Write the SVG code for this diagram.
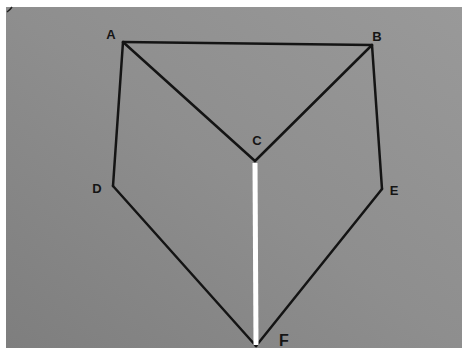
<svg xmlns="http://www.w3.org/2000/svg" width="462" height="350" viewBox="0 0 462 350">
<style>
.edge{stroke:#141414;stroke-width:2.5;fill:none;stroke-linecap:round;stroke-linejoin:round}
.lbl{font-family:"Liberation Sans",Arial,sans-serif;font-weight:bold;font-size:13px;fill:#151515;text-anchor:middle}
</style>
<defs>
<linearGradient id="bg" x1="1" y1="0" x2="0" y2="1">
<stop offset="0" stop-color="#999999"/>
<stop offset="0.5" stop-color="#8e8e8e"/>
<stop offset="1" stop-color="#7e7e7e"/>
</linearGradient>
</defs>
<rect x="0" y="0" width="462" height="350" fill="#ffffff"/>
<rect x="6" y="7" width="456" height="341" fill="url(#bg)"/>
<path d="M7 12 Q10 10 12 7" stroke="#222" stroke-width="1.5" fill="none"/>
<g id="connectors">
<path class="edge" d="M123 42 L372 45"/>
<path class="edge" d="M123 42 L255 161"/>
<path class="edge" d="M372 45 L255 161"/>
<path class="edge" d="M123 42 L113 186"/>
<path class="edge" d="M372 45 L382 189"/>
<path class="edge" d="M113 186 L256 346"/>
<path class="edge" d="M382 189 L256 346"/>
<path d="M255 163 L256 345" stroke="#ffffff" stroke-width="5" fill="none"/>
</g>
<g id="A"><text class="lbl" x="111" y="39">A</text></g>
<g id="B"><text class="lbl" x="377" y="41">B</text></g>
<g id="C"><text class="lbl" x="257" y="145">C</text></g>
<g id="D"><text class="lbl" x="97" y="193">D</text></g>
<g id="E"><text class="lbl" x="394" y="195">E</text></g>
<g id="F"><text class="lbl" x="284" y="346" style="font-size:16px">F</text></g>
</svg>
